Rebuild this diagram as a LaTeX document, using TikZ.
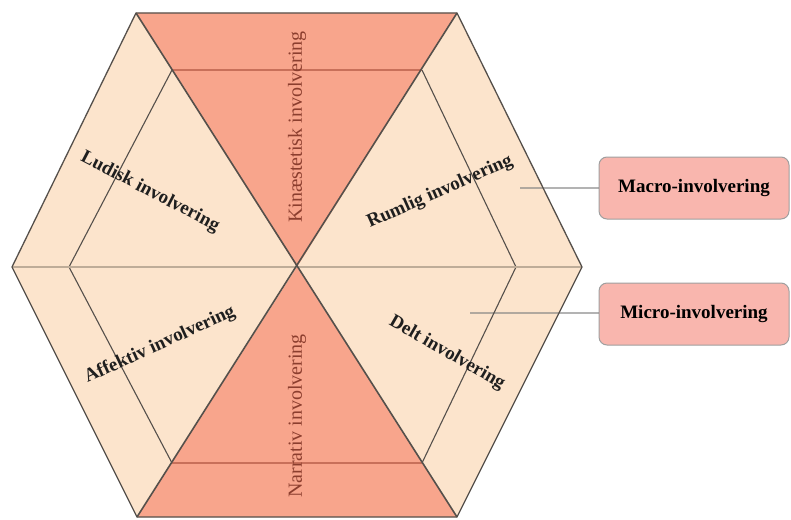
\documentclass[tikz,border=0pt]{standalone}
\usepackage{fontspec}
\setmainfont{Liberation Serif}
\definecolor{sand}{RGB}{252,228,204}
\definecolor{salmon}{RGB}{248,165,140}
\definecolor{boxpink}{RGB}{249,182,174}
\definecolor{edgegray}{RGB}{85,80,75}
\definecolor{midline}{RGB}{190,172,152}
\definecolor{redline}{RGB}{200,112,90}
\definecolor{redtext}{RGB}{140,62,46}
\begin{document}
\begin{tikzpicture}[x=1pt,y=-1pt,
  facet/.style={font=\fontsize{19}{19}\selectfont\bfseries, text=black!88, inner sep=0pt},
  vlabel/.style={font=\fontsize{20}{20}\selectfont, text=redtext, inner sep=0pt, rotate=90},
  box/.style={draw=gray!75, line width=1pt, fill=boxpink, rounded corners=8pt,
    minimum width=190pt, minimum height=62pt, inner sep=0pt,
    font=\fontsize{19}{19}\selectfont\bfseries},
  conn/.style={draw=gray, line width=1.2pt, opacity=0.6}]
\useasboundingbox (0,0) rectangle (791,519);

% outer hexagon
\coordinate (O) at (297,267);
\coordinate (A) at (136,13);
\coordinate (B) at (457,13);
\coordinate (C) at (582,267);
\coordinate (D) at (457,517);
\coordinate (E) at (137,517);
\coordinate (F) at (12,267);
% inner hexagon
\coordinate (a) at (172,70);
\coordinate (b) at (422,70);
\coordinate (c) at (516,267);
\coordinate (d) at (422,463);
\coordinate (e) at (172,463);
\coordinate (f) at (69,267);

% fills
\fill[sand] (A) -- (B) -- (C) -- (D) -- (E) -- (F) -- cycle;
\fill[salmon] (A) -- (B) -- (O) -- cycle;
\fill[salmon] (E) -- (D) -- (O) -- cycle;

% connectors to the two boxes
\node[box] (macro) at (694,188) {Macro-involvering};
\node[box] (micro) at (694,314) {Micro-involvering};
\coordinate (macroEnd) at (520,188);
\coordinate (microEnd) at (470,313);
\draw[conn] (macroEnd) -- (macro.west);
\draw[conn] (microEnd) -- (microEnd -| micro.west);

% inner hexagon
\draw[edgegray, line width=1.1pt] (a) -- (f) -- (e);
\draw[edgegray, line width=1.1pt] (b) -- (c) -- (d);
\draw[redline, line width=1.3pt] (a) -- (b);
\draw[redline, line width=1.3pt] (e) -- (d);

% middle horizontal line
\draw[midline, line width=2.6pt] (F) -- (C);

% diagonals
\draw[edgegray, line width=1.6pt] (A) -- (D);
\draw[edgegray, line width=1.6pt] (B) -- (E);

% outer hexagon outline
\draw[edgegray, line width=1.3pt, line join=miter] (A) -- (B) -- (C) -- (D) -- (E) -- (F) -- cycle;

% labels
\node[facet, rotate=-27.5] (ludisk) at (150,192) {Ludisk involvering};
\node[facet, rotate=24] (rumlig) at (440,192) {Rumlig involvering};
\node[facet, rotate=24.5] (affektiv) at (160,345) {Affektiv involvering};
\node[facet, rotate=-30] (delt) at (447,353) {Delt involvering};
\node[vlabel] (kin) at (297,127) {Kinæstetisk involvering};
\node[vlabel] (nar) at (297,416) {Narrativ involvering};
\end{tikzpicture}
\end{document}
